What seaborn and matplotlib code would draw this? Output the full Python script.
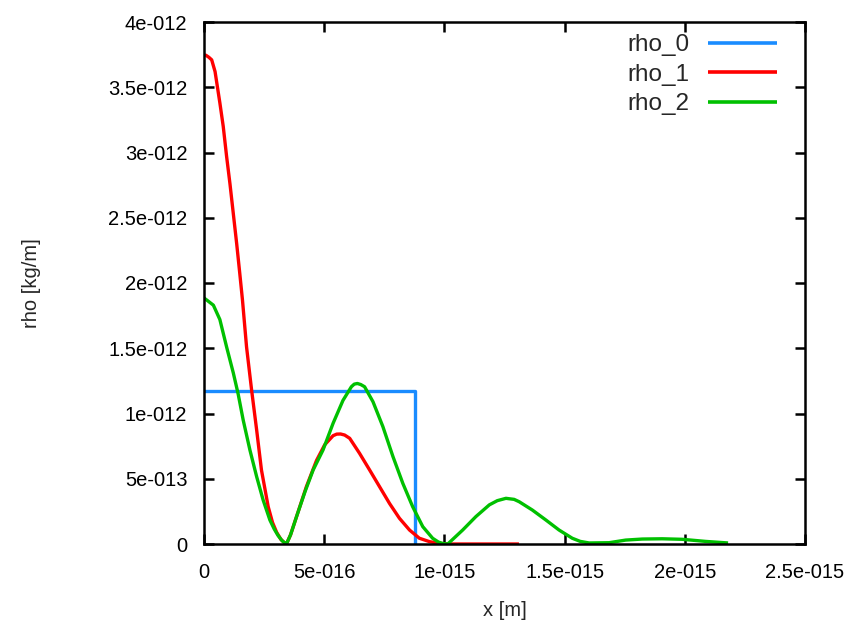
import matplotlib
matplotlib.use("Agg")
import matplotlib.pyplot as plt
import seaborn as sns
import pandas as pd
from matplotlib.ticker import FixedLocator, FixedFormatter

# ---- data (x in m, rho in kg/m) ----
rho0_x = [0.0, 0.876e-15, 0.876e-15]
rho0_y = [1.175e-12, 1.175e-12, 0.0]

rho1_x = [0.0, 0.008, 0.020, 0.032, 0.046, 0.066, 0.080, 0.094, 0.108, 0.122, 0.136, 0.149,
          0.160, 0.177, 0.198, 0.219, 0.239, 0.267, 0.285, 0.302, 0.320, 0.336, 0.343,
          0.360, 0.385, 0.426, 0.468, 0.502, 0.537, 0.552, 0.568, 0.585, 0.606, 0.647,
          0.689, 0.730, 0.772, 0.813, 0.855, 0.896, 0.938, 0.979, 1.02, 1.31]
rho1_x = [v * 1e-15 for v in rho1_x]
rho1_y = [3.747, 3.745, 3.73, 3.71, 3.62, 3.38, 3.20, 2.97, 2.76, 2.53, 2.30, 2.07,
          1.87, 1.51, 1.18, 0.874, 0.567, 0.286, 0.165, 0.090, 0.035, 0.008, 0.0,
          0.07, 0.21, 0.44, 0.64, 0.76, 0.83, 0.842, 0.843, 0.835, 0.81, 0.695,
          0.567, 0.44, 0.31, 0.197, 0.107, 0.044, 0.018, 0.005, 0.0, 0.0]
rho1_y = [v * 1e-12 for v in rho1_y]

rho2_x = [0.0, 0.011, 0.039, 0.066, 0.094, 0.122, 0.142, 0.163, 0.191, 0.219, 0.246,
          0.274, 0.292, 0.308, 0.325, 0.336, 0.343, 0.360, 0.385, 0.420, 0.454, 0.495,
          0.537, 0.578, 0.613, 0.625, 0.638, 0.652, 0.668, 0.703, 0.744, 0.786, 0.827,
          0.868, 0.910, 0.951, 0.975, 0.993, 1.014, 1.040, 1.076, 1.131, 1.187, 1.22,
          1.256, 1.29, 1.311, 1.366, 1.422, 1.477, 1.532, 1.565, 1.602, 1.685, 1.754,
          1.823, 1.906, 1.989, 2.086, 2.18]
rho2_x = [v * 1e-15 for v in rho2_x]
rho2_y = [1.885, 1.87, 1.83, 1.72, 1.51, 1.31, 1.15, 0.95, 0.72, 0.516, 0.337,
          0.184, 0.115, 0.065, 0.025, 0.008, 0.0, 0.07, 0.21, 0.40, 0.567, 0.72,
          0.925, 1.10, 1.205, 1.225, 1.23, 1.222, 1.205, 1.09, 0.90, 0.67, 0.465,
          0.286, 0.133, 0.044, 0.015, 0.004, 0.0, 0.045, 0.107, 0.21, 0.30, 0.332,
          0.35, 0.342, 0.324, 0.26, 0.184, 0.107, 0.044, 0.020, 0.008, 0.01, 0.03,
          0.038, 0.04, 0.036, 0.02, 0.008]
rho2_y = [v * 1e-12 for v in rho2_y]

series_names = ["rho_0", "rho_1", "rho_2"]
series_colors = ["#1a8cff", "#ff0000", "#00c000"]

x_ticks = [0, 0.5e-15, 1e-15, 1.5e-15, 2e-15, 2.5e-15]
x_tick_labels = ["0", "5e-016", "1e-015", "1.5e-015", "2e-015", "2.5e-015"]
y_ticks = [0, 0.5e-12, 1e-12, 1.5e-12, 2e-12, 2.5e-12, 3e-12, 3.5e-12, 4e-12]
y_tick_labels = ["0", "5e-013", "1e-012", "1.5e-012", "2e-012", "2.5e-012",
                 "3e-012", "3.5e-012", "4e-012"]

# ---- build table ----
frames = []
for name, xs, ys in zip(series_names, [rho0_x, rho1_x, rho2_x], [rho0_y, rho1_y, rho2_y]):
    frames.append(pd.DataFrame({"x": xs, "rho": ys, "series": name}))
df = pd.concat(frames, ignore_index=True)

sns.set_theme(style="white")
plt.rcParams["font.family"] = ["Liberation Sans", "DejaVu Sans"]

fig = plt.figure(figsize=(8.57, 6.36), dpi=100)
ax = fig.add_axes([204 / 857, 1 - 544 / 636, (805 - 204) / 857, (544 - 22) / 636])

sns.lineplot(data=df, x="x", y="rho", hue="series", units="series",
             estimator=None, sort=False, palette=dict(zip(series_names, series_colors)),
             linewidth=2.4, ax=ax, legend=True)
for ln in ax.get_lines():
    ln.set_solid_joinstyle("round")
    ln.set_solid_capstyle("butt")

ax.set_xlim(0, 2.5e-15)
ax.set_ylim(0, 4e-12)
ax.xaxis.set_major_locator(FixedLocator(x_ticks))
ax.xaxis.set_major_formatter(FixedFormatter(x_tick_labels))
ax.yaxis.set_major_locator(FixedLocator(y_ticks))
ax.yaxis.set_major_formatter(FixedFormatter(y_tick_labels))

fs = 14.5
ax.tick_params(direction="in", length=7, width=1.8, top=True, right=True,
               bottom=True, left=True, labelsize=fs, colors="black")
ax.tick_params(axis="y", pad=12)
ax.tick_params(axis="x", pad=14)
for sp in ax.spines.values():
    sp.set_color("black")
    sp.set_linewidth(1.8)

ax.set_xlabel("x [m]", fontsize=fs, labelpad=13)
ax.set_ylabel("rho [kg/m]", fontsize=fs, labelpad=48)

lfs = 17.5
leg = ax.legend(loc="upper right", frameon=False, fontsize=lfs, markerfirst=False,
                handlelength=2.85, handletextpad=0.75, labelspacing=0.31,
                borderpad=0, borderaxespad=0,
                bbox_to_anchor=((777 - 204) / 601, (544 - 34) / 522))
for line in leg.get_lines():
    line.set_linewidth(2.6)

fig.savefig("out.png", dpi=100)
